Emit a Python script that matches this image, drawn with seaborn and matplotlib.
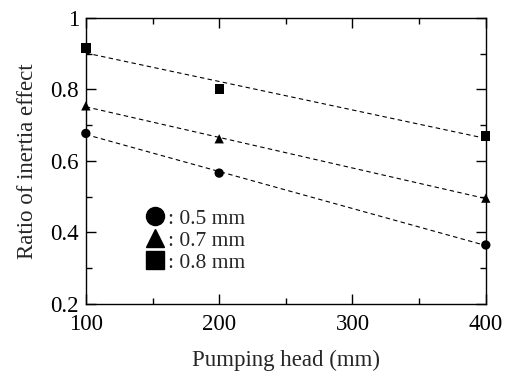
import matplotlib
matplotlib.use("Agg")
import matplotlib.pyplot as plt
import seaborn as sns
import pandas as pd
from matplotlib.ticker import MultipleLocator, FuncFormatter
from matplotlib.lines import Line2D

pumping_head = [100, 200, 400]
ratio_05 = [0.677, 0.566, 0.365]
ratio_07 = [0.754, 0.662, 0.496]
ratio_08 = [0.916, 0.801, 0.670]
series_labels = [": 0.5 mm", ": 0.7 mm", ": 0.8 mm"]
series_values = [ratio_05, ratio_07, ratio_08]
markers = ["o", "^", "s"]

rows = []
for lab, vals in zip(series_labels, series_values):
    for x, y in zip(pumping_head, vals):
        rows.append({"head": x, "ratio": y, "series": lab})
df = pd.DataFrame(rows)

sns.set_theme(style="ticks")
plt.rcParams['font.family'] = ['Liberation Serif', 'DejaVu Serif']
plt.rcParams['mathtext.fontset'] = 'stix'

fig = plt.figure(figsize=(5.05, 3.73), dpi=100)
ax = fig.add_axes([0.170, 0.185, 0.792, 0.767])

for lab, m in zip(series_labels, markers):
    sub = df[df["series"] == lab]
    sns.regplot(data=sub, x="head", y="ratio", ax=ax, scatter=False, ci=None,
                truncate=True, color="black",
                line_kws=dict(linestyle=(0, (4, 3)), linewidth=0.8))

sns.scatterplot(data=df, x="head", y="ratio", style="series", markers=dict(zip(series_labels, markers)),
                color="black", s=45, edgecolor="none", ax=ax, legend=False, clip_on=False, zorder=5)

ax.set_xlim(100, 400)
ax.set_ylim(0.2, 1.0)
ax.xaxis.set_major_locator(MultipleLocator(100))
ax.xaxis.set_minor_locator(MultipleLocator(50))
ax.yaxis.set_major_locator(MultipleLocator(0.2))
ax.yaxis.set_minor_locator(MultipleLocator(0.1))
ax.yaxis.set_major_formatter(FuncFormatter(lambda v, p: "1" if abs(v - 1) < 1e-9 else f"{v:.1f}"))
ax.tick_params(which="both", direction="in", top=True, right=True, labelsize=16.5, colors="black")
ax.tick_params(axis="x", which="major", pad=7)
ax.tick_params(axis="y", which="major", pad=5)
ax.tick_params(which="major", length=7, width=1)
ax.tick_params(which="minor", length=4, width=1)
for s in ax.spines.values():
    s.set_color("black")
    s.set_linewidth(1)

ax.set_xlabel("Pumping head (mm)", fontsize=16.5, labelpad=11)
ax.set_ylabel("Ratio of inertia effect", fontsize=16.5, labelpad=9)

handles = [Line2D([], [], marker=m, color="black", linestyle="none", markersize=13) for m in markers]
ax.legend(handles, series_labels, loc="upper left", bbox_to_anchor=(0.12, 0.37), frameon=False,
          fontsize=15.5, handletextpad=0.1, labelspacing=0.08, handlelength=1.0, borderpad=0)

fig.savefig("out.png", dpi=100)
